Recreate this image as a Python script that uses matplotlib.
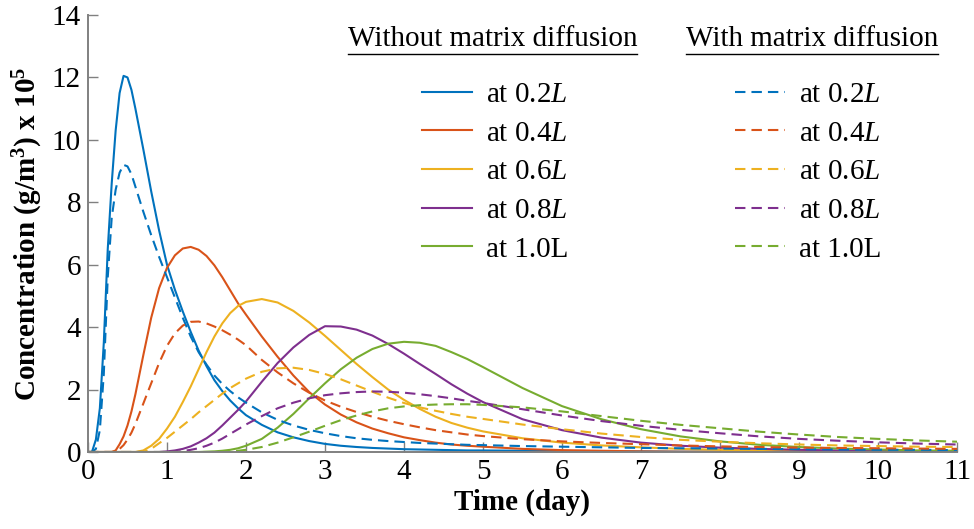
import matplotlib
matplotlib.use("Agg")
import matplotlib.pyplot as plt
from matplotlib.lines import Line2D

plt.rcParams['font.family'] = ['Liberation Serif', 'DejaVu Serif']
plt.rcParams['mathtext.fontset'] = 'custom'
plt.rcParams['mathtext.rm'] = 'Liberation Serif'
plt.rcParams['mathtext.it'] = 'Liberation Serif:italic'
plt.rcParams['mathtext.bf'] = 'Liberation Serif:bold'

# ---- data ----
time_day = [0, 0.05, 0.1, 0.15, 0.2, 0.25, 0.3, 0.35, 0.4, 0.45, 0.5, 0.55, 0.6,
            0.7, 0.8, 0.9, 1.0, 1.1, 1.2, 1.3, 1.4, 1.5, 1.6, 1.7, 1.8, 1.9, 2.0,
            2.2, 2.4, 2.6, 2.8, 3.0, 3.2, 3.4, 3.6, 3.8, 4.0, 4.2, 4.4, 4.6, 4.8, 5.0,
            5.5, 6.0, 6.5, 7.0, 7.5, 8.0, 8.5, 9.0, 9.5, 10.0, 10.5, 11.0]

no_md_02 = [0, 0, 0.4, 1.4, 3.5, 6.5, 8.6, 10.3, 11.5, 12.05, 12.0, 11.6, 11.0,
            9.7, 8.35, 7.1, 6.0, 5.2, 4.5, 3.85, 3.25, 2.75, 2.3, 1.95, 1.65, 1.4, 1.18,
            0.87, 0.63, 0.47, 0.35, 0.26, 0.2, 0.16, 0.13, 0.11, 0.09, 0.08, 0.07, 0.06, 0.05, 0.05,
            0.04, 0.03, 0.02, 0.02, 0.01, 0.01, 0.01, 0.01, 0.01, 0.01, 0.01, 0.01]
no_md_04 = [0, 0, 0, 0, 0, 0, 0, 0.05, 0.25, 0.5, 0.85, 1.3, 1.85,
            3.1, 4.3, 5.25, 5.9, 6.3, 6.52, 6.57, 6.48, 6.28, 5.98, 5.6, 5.18, 4.76, 4.4,
            3.7, 3.05, 2.45, 1.92, 1.52, 1.2, 0.95, 0.75, 0.6, 0.47, 0.38, 0.3, 0.24, 0.2, 0.17,
            0.1, 0.06, 0.04, 0.02, 0.01, 0.01, 0.01, 0.01, 0, 0, 0, 0]
no_md_06 = [0, 0, 0, 0, 0, 0, 0, 0, 0, 0, 0, 0, 0,
            0.05, 0.2, 0.42, 0.75, 1.13, 1.6, 2.1, 2.65, 3.2, 3.7, 4.12, 4.45, 4.68, 4.81,
            4.9, 4.79, 4.52, 4.15, 3.72, 3.27, 2.82, 2.4, 2.0, 1.67, 1.38, 1.13, 0.93, 0.78, 0.66,
            0.44, 0.3, 0.21, 0.15, 0.1, 0.07, 0.05, 0.04, 0.03, 0.02, 0.01, 0.01]
no_md_08 = [0, 0, 0, 0, 0, 0, 0, 0, 0, 0, 0, 0, 0,
            0, 0, 0, 0.02, 0.05, 0.1, 0.18, 0.3, 0.44, 0.62, 0.85, 1.1, 1.35, 1.62,
            2.25, 2.85, 3.35, 3.75, 4.03, 4.02, 3.92, 3.73, 3.46, 3.15, 2.82, 2.5, 2.17, 1.87, 1.6,
            1.05, 0.7, 0.46, 0.3, 0.2, 0.14, 0.1, 0.07, 0.05, 0.04, 0.03, 0.02]
no_md_10 = [0, 0, 0, 0, 0, 0, 0, 0, 0, 0, 0, 0, 0,
            0, 0, 0, 0, 0, 0, 0, 0, 0.01, 0.02, 0.04, 0.07, 0.12, 0.2,
            0.42, 0.78, 1.22, 1.72, 2.2, 2.65, 3.02, 3.3, 3.47, 3.53, 3.5, 3.4, 3.2, 2.98, 2.72,
            2.05, 1.47, 1.05, 0.73, 0.5, 0.34, 0.23, 0.16, 0.11, 0.08, 0.05, 0.04]

md_02 = [0, 0, 0.1, 0.7, 2.5, 5.6, 7.5, 8.4, 8.95, 9.2, 9.15, 8.9, 8.5,
         7.7, 6.95, 6.25, 5.6, 4.95, 4.3, 3.7, 3.2, 2.8, 2.45, 2.18, 1.95, 1.75, 1.58,
         1.27, 1.03, 0.85, 0.71, 0.6, 0.51, 0.44, 0.39, 0.35, 0.32, 0.29, 0.27, 0.25, 0.23, 0.22,
         0.19, 0.17, 0.15, 0.13, 0.12, 0.11, 0.1, 0.09, 0.08, 0.07, 0.07, 0.06]
md_04 = [0, 0, 0, 0, 0, 0, 0, 0, 0.1, 0.22, 0.4, 0.62, 0.9,
         1.55, 2.2, 2.85, 3.4, 3.8, 4.05, 4.17, 4.18, 4.12, 4.02, 3.9, 3.76, 3.6, 3.42,
         2.95, 2.55, 2.2, 1.9, 1.65, 1.45, 1.28, 1.13, 1.0, 0.89, 0.79, 0.7, 0.63, 0.56, 0.51,
         0.41, 0.34, 0.29, 0.25, 0.21, 0.18, 0.16, 0.14, 0.13, 0.12, 0.11, 0.1]
md_06 = [0, 0, 0, 0, 0, 0, 0, 0, 0, 0, 0, 0, 0,
         0, 0.1, 0.28, 0.45, 0.65, 0.85, 1.05, 1.27, 1.47, 1.67, 1.87, 2.05, 2.2, 2.35,
         2.57, 2.68, 2.7, 2.63, 2.5, 2.33, 2.13, 1.93, 1.74, 1.57, 1.43, 1.32, 1.22, 1.13, 1.06,
         0.88, 0.73, 0.59, 0.48, 0.39, 0.33, 0.28, 0.24, 0.21, 0.19, 0.17, 0.16]
md_08 = [0, 0, 0, 0, 0, 0, 0, 0, 0, 0, 0, 0, 0,
         0, 0, 0, 0, 0, 0.03, 0.07, 0.12, 0.2, 0.3, 0.43, 0.58, 0.73, 0.88,
         1.15, 1.4, 1.58, 1.72, 1.82, 1.88, 1.92, 1.94, 1.93, 1.9, 1.85, 1.79, 1.72, 1.64, 1.57,
         1.37, 1.17, 0.99, 0.84, 0.71, 0.6, 0.5, 0.42, 0.36, 0.31, 0.27, 0.24]
md_10 = [0, 0, 0, 0, 0, 0, 0, 0, 0, 0, 0, 0, 0,
         0, 0, 0, 0, 0, 0, 0, 0, 0, 0, 0, 0.02, 0.04, 0.07,
         0.16, 0.3, 0.47, 0.65, 0.84, 1.02, 1.17, 1.3, 1.4, 1.46, 1.5, 1.52, 1.53, 1.53, 1.51,
         1.43, 1.3, 1.15, 1.0, 0.87, 0.76, 0.65, 0.56, 0.48, 0.42, 0.37, 0.33]

labels = ["at 0.2$L$", "at 0.4$L$", "at 0.6$L$", "at 0.8$L$", "at 1.0L"]
colors = ["#0072BD", "#D95319", "#EDB120", "#7E2F8E", "#77AC30"]
x_ticks = list(range(0, 12))
y_ticks = [0, 2, 4, 6, 8, 10, 12, 14]

no_md = [no_md_02, no_md_04, no_md_06, no_md_08, no_md_10]
with_md = [md_02, md_04, md_06, md_08, md_10]

# ---- figure ----
fig = plt.figure(figsize=(9.74, 5.29), dpi=100)
ax = fig.add_axes([88 / 974, 77 / 529, 869 / 974, 437 / 529])

FS = 21
lw = 1.5
solid_handles, dash_handles = [], []
for ys, c in zip(no_md, colors):
    h, = ax.plot(time_day, ys, color=c, lw=lw, solid_joinstyle='round')
    solid_handles.append(h)
for ys, c in zip(with_md, colors):
    h, = ax.plot(time_day, ys, color=c, lw=lw, linestyle=(0, (5.0, 2.9)))
    dash_handles.append(h)

ax.set_xlim(0, 11)
ax.set_ylim(0, 14)
ax.set_xticks(x_ticks)
ax.set_yticks(y_ticks)
ax.tick_params(direction='in', length=7, width=1.0, color='#808080',
               labelsize=FS, labelcolor='black', pad=5)
for s in ['top', 'right']:
    ax.spines[s].set_visible(False)
for s in ['left', 'bottom']:
    ax.spines[s].set_color('#808080')
    ax.spines[s].set_linewidth(1.4)

ax.set_xlabel("Time (day)", fontsize=FS, fontweight='bold', labelpad=3)
ax.set_ylabel(r"Concentration (g/m$^{\mathbf{3}}$) x 10$^{\mathbf{5}}$",
              fontsize=FS, fontweight='bold', labelpad=5)

leg_kw = dict(frameon=False, fontsize=FS, handlelength=1.72, handletextpad=0.5,
              labelspacing=0.42, borderpad=0, borderaxespad=0, loc='upper left')
leg1 = ax.legend(solid_handles, labels, bbox_to_anchor=(0.384, 0.848), **leg_kw)
ax.add_artist(leg1)
leg2 = ax.legend(dash_handles, labels, bbox_to_anchor=(0.744, 0.848), **leg_kw)

t1 = ax.text(0.299, 0.945, "Without matrix diffusion", transform=ax.transAxes,
             fontsize=FS, ha='left', va='center')
t2 = ax.text(0.688, 0.945, "With matrix diffusion", transform=ax.transAxes,
             fontsize=FS, ha='left', va='center')

fig.canvas.draw()
r = fig.canvas.get_renderer()
inv = ax.transAxes.inverted()
for t in (t1, t2):
    bb = t.get_window_extent(r)
    (x0, y0), (x1, y1) = inv.transform([[bb.x0, bb.y0 - 2], [bb.x1, bb.y0 - 2]])
    ax.add_line(Line2D([x0, x1], [y0, y1], transform=ax.transAxes, color='black',
                       lw=1.0, clip_on=False))

fig.savefig("out.png", dpi=100)
